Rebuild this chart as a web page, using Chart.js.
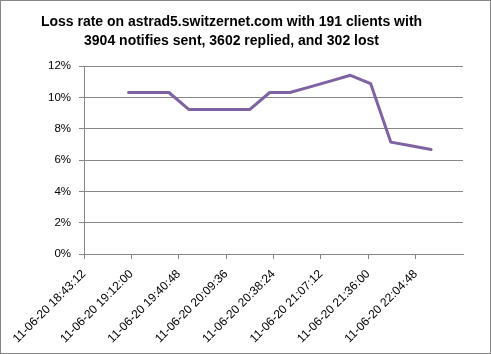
<!DOCTYPE html>
<html>
<head>
<meta charset="utf-8">
<script src="https://cdn.jsdelivr.net/npm/chart.js@4.4.1/dist/chart.umd.min.js"></script>
<style>
  html, body { margin: 0; padding: 0; background: #fff; }
  #wrap { width: 491px; height: 354px; }
</style>
</head>
<body>
<div id="wrap"><canvas id="lossChart" width="491" height="354"></canvas></div>
<script>
'use strict';

/* ── data ── */
const titleLines = [
  'Loss rate on astrad5.switzernet.com with 191 clients with',
  '3904 notifies sent, 3602 replied, and 302 lost'
];
const datePrefix = '11-06-20 ';
const sampleTimes = [
  '19:10:18', '19:22:34', '19:34:49', '19:47:05', '19:59:20', '20:11:36',
  '20:23:52', '20:36:07', '20:48:23', '21:00:38', '21:12:54', '21:25:10',
  '21:37:25', '21:49:41', '22:01:56', '22:14:12'
];
const lossRates = [
  10.32, 10.32, 10.32, 9.23, 9.23, 9.23,
  9.23, 10.32, 10.32, 10.68, 11.05, 11.42,
  10.89, 7.15, 6.92, 6.68
];
const axisStartTime = '18:43:12';
const axisEndTime   = '22:33:36';
const axisStepTime  = '00:28:48';
const yMax = 12;
const yStep = 2;

/* ── helpers ── */
const toSec = t => { const [h, m, s] = t.split(':').map(Number); return h * 3600 + m * 60 + s; };
const pad2 = n => String(n).padStart(2, '0');
const fmtSec = v => pad2(Math.floor(v / 3600)) + ':' + pad2(Math.floor(v % 3600 / 60)) + ':' + pad2(Math.round(v % 60));

const GRID = '#868686';
const FONT = "'Liberation Sans', Arial, sans-serif";

const frame = {
  id: 'frame',
  afterDraw(chart) {
    const ctx = chart.ctx;
    ctx.save();
    ctx.strokeStyle = GRID;
    ctx.lineWidth = 1;
    ctx.strokeRect(0.5, 0.5, chart.width - 1, chart.height - 1);
    ctx.restore();
  }
};

new Chart(document.getElementById('lossChart'), {
  type: 'line',
  data: {
    datasets: [{
      data: sampleTimes.map((t, i) => ({ x: toSec(t), y: lossRates[i] })),
      borderColor: '#7E62A1',
      borderWidth: 3,
      borderJoinStyle: 'round',
      borderCapStyle: 'round',
      pointRadius: 0,
      tension: 0,
      fill: false
    }]
  },
  options: {
    responsive: false,
    animation: false,
    events: [],
    layout: { padding: { left: 0, right: 28, top: 0, bottom: 0 } },
    plugins: {
      legend: { display: false },
      tooltip: { enabled: false },
      title: {
        display: true,
        text: titleLines,
        color: '#000',
        font: { family: FONT, size: 14, weight: 'bold', lineHeight: 1.4 },
        padding: { top: 12, bottom: 15 }
      }
    },
    scales: {
      x: {
        type: 'linear',
        min: toSec(axisStartTime),
        max: toSec(axisEndTime),
        afterFit: s => { s.height = 100; },
        grid: { drawOnChartArea: false, drawTicks: true, tickLength: 5, color: GRID },
        border: { display: true, color: GRID },
        ticks: {
          stepSize: toSec(axisStepTime),
          autoSkip: false,
          minRotation: 45,
          maxRotation: 45,
          padding: 8,
          color: '#000',
          font: { family: FONT, size: 12 },
          callback: v => v >= toSec(axisEndTime) ? null : datePrefix + fmtSec(v)
        }
      },
      y: {
        min: 0,
        max: yMax,
        afterFit: s => { s.width = 84; },
        grid: { color: GRID, tickLength: 5 },
        border: { display: true, color: GRID },
        ticks: {
          stepSize: yStep,
          padding: 8,
          color: '#000',
          font: { family: FONT, size: 11.5 },
          callback: v => v + '%'
        }
      }
    }
  },
  plugins: [frame]
});
</script>
</body>
</html>
